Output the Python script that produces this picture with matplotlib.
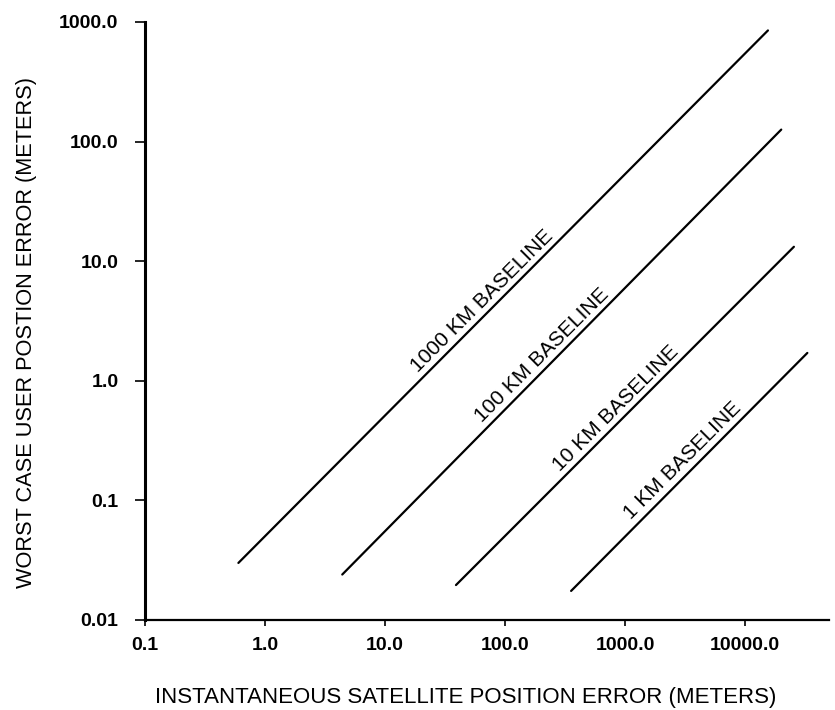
import numpy as np
import matplotlib.pyplot as plt

plt.rcParams['font.family'] = ['Liberation Sans', 'DejaVu Sans']

# ----- data (endpoints of each baseline line)
baselines = ['1000 KM BASELINE', '100 KM BASELINE', '10 KM BASELINE', '1 KM BASELINE']
sat_err_start = [0.6, 4.4, 39.0, 355.0]
sat_err_end = [15500.0, 20000.0, 25500.0, 33000.0]
user_err_start = [0.030, 0.024, 0.0196, 0.0175]
user_err_end = [850.0, 126.0, 13.2, 1.71]
# points on each line where its label sits
label_x = [76.0, 240.0, 990.0, 3600.0]
label_y = [3.9, 1.38, 0.50, 0.183]

xticks = [0.1, 1.0, 10.0, 100.0, 1000.0, 10000.0]
xticklabels = ['0.1', '1.0', '10.0', '100.0', '1000.0', '10000.0']
yticks = [0.01, 0.1, 1.0, 10.0, 100.0, 1000.0]
yticklabels = ['0.01', '0.1', '1.0', '10.0', '100.0', '1000.0']

# ----- plot
fig = plt.figure(figsize=(8.35, 7.10), dpi=100)
ax = fig.add_axes([145/835, 90/710, 684/835, 598/710])

for i in range(len(baselines)):
    ax.plot([sat_err_start[i], sat_err_end[i]], [user_err_start[i], user_err_end[i]],
            'k-', lw=1.6, solid_capstyle='round')
    ax.annotate(baselines[i], xy=(label_x[i], label_y[i]), xytext=(-1.5, 1.5),
                textcoords='offset points', rotation=45, rotation_mode='anchor',
                ha='center', va='bottom', fontsize=15)

ax.set_xscale('log')
ax.set_yscale('log')
ax.set_xlim(0.1, 5e4)
ax.set_ylim(0.01, 1000)
ax.set_xticks(xticks)
ax.set_xticklabels(xticklabels, fontsize=14, fontweight='bold')
ax.set_yticks(yticks)
ax.set_yticklabels(yticklabels, fontsize=14, fontweight='bold')
ax.minorticks_off()
ax.tick_params(axis='y', direction='out', length=7, width=1.2, pad=12)
ax.tick_params(axis='x', direction='out', length=4, width=1.2, pad=8)

for s in ['top', 'right']:
    ax.spines[s].set_visible(False)
ax.spines['left'].set_linewidth(2.2)
ax.spines['bottom'].set_linewidth(1.6)

fig.text(466/835, 1 - 697/710, 'INSTANTANEOUS SATELLITE POSITION ERROR (METERS)',
         ha='center', va='center', fontsize=16)
fig.text(27/835, 1 - 332/710, 'WORST CASE USER POSTION ERROR (METERS)',
         ha='center', va='center', rotation=90, fontsize=15.7)

plt.savefig('out.png', dpi=100)
